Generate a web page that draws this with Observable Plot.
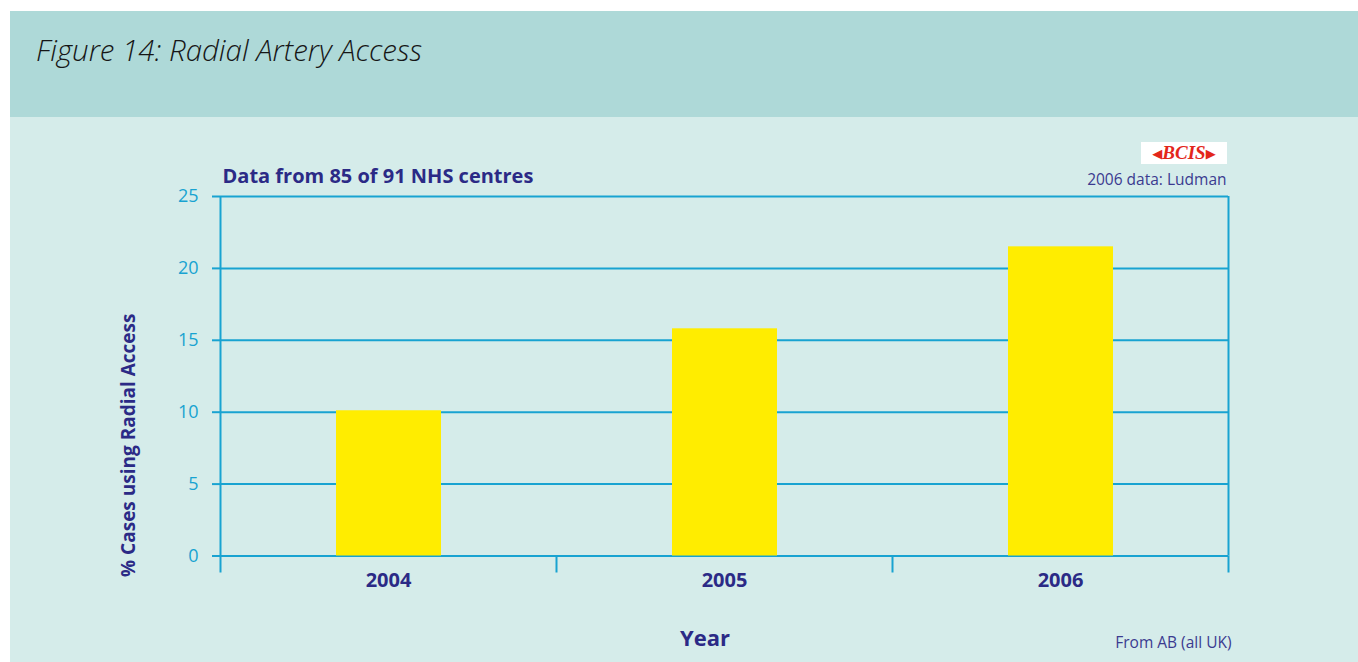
<!DOCTYPE html>
<html>
<head>
<meta charset="utf-8">
<script src="https://cdn.jsdelivr.net/npm/d3@7"></script>
<script src="https://cdn.jsdelivr.net/npm/@observablehq/plot@0.6"></script>
<style>
  html, body { margin: 0; padding: 0; background: #ffffff; }
  body { width: 1358px; height: 662px; position: relative; overflow: hidden; font-family: "Open Sans", sans-serif; }
  #header { position: absolute; left: 10px; top: 11px; width: 1348px; height: 106px; background: #aed9d8; }
  #title { position: absolute; left: 26px; top: 24px; font-size: 29.5px; font-style: italic; font-weight: 300; color: #161616; white-space: nowrap; line-height: 30px; }
  #panel { position: absolute; left: 10px; top: 117px; width: 1348px; height: 545px; background: #d5ecea; }
  #chart { position: absolute; left: 0; top: 0; }
  #logo { position: absolute; left: 1131px; top: 25px; width: 86px; height: 22px; background: #ffffff; color: #e3261b;
          font-family: "Liberation Serif", serif; font-style: italic; font-weight: bold; font-size: 19px; line-height: 22px;
          text-align: center; white-space: nowrap; }
  #logo .arr { font-family: "DejaVu Sans", sans-serif; font-style: normal; font-size: 13px; vertical-align: 1px; }
</style>
</head>
<body>
<div id="header"><div id="title">Figure 14: Radial Artery Access</div></div>
<div id="panel">
  <div id="chart"></div>
  <div id="logo"><span class="arr">◀</span>BCIS<span class="arr">▶</span></div>
</div>
<script>
// Data
const years = [2004, 2005, 2006];
const radialPct = [10.1, 15.8, 21.5];
const yTicks = [0, 5, 10, 15, 20, 25];
const subtitle = "Data from 85 of 91 NHS centres";
const sourceNote = "2006 data: Ludman";
const footNote = "From AB (all UK)";
const xLabel = "Year";
const yLabel = "% Cases using Radial Access";

const rows = years.map((y, i) => ({year: y, value: radialPct[i]}));
const bounds = [years[0] - 0.5, ...years.map(y => y + 0.5)];

const lineColor = "#18a3d1";
const navy = "#2b2a86";
const noteColor = "#3b3b90";
const barColor = "#ffed00";

const chart = Plot.plot({
  width: 1348,
  height: 545,
  marginLeft: 210,
  marginRight: 130,
  marginTop: 79,
  marginBottom: 106.5,
  style: { background: "transparent", fontFamily: "'Open Sans', sans-serif", overflow: "visible" },
  x: { type: "linear", domain: [bounds[0], bounds[bounds.length - 1]] },
  y: { domain: [0, 25] },
  marks: [
    Plot.ruleY(yTicks, { stroke: lineColor, strokeWidth: 2 }),
    Plot.ruleX([bounds[0], bounds[bounds.length - 1]], { y1: 0, y2: 25, stroke: lineColor, strokeWidth: 2 }),
    Plot.axisY({ ticks: yTicks, tickSize: 8, tickPadding: 14, stroke: lineColor, strokeWidth: 2, color: lineColor, fill: lineColor,
                 fontSize: 18, label: null, tickFormat: d => String(d) }),
    Plot.axisX({ ticks: bounds, tickSize: 17, stroke: lineColor, strokeWidth: 2, tickFormat: () => "", label: null }),
    Plot.axisX({ ticks: years, tickSize: 0, tickPadding: 17, fill: navy, fontSize: 20, fontWeight: "bold",
                 tickFormat: d => String(d), label: null }),
    Plot.rectY(rows, { x1: d => d.year - 0.5, x2: d => d.year + 0.5, y: "value", fill: barColor, insetLeft: 116, insetRight: 115 }),
    Plot.text([subtitle], { frameAnchor: "top-left", dx: 2, dy: -14, textAnchor: "start", lineAnchor: "bottom",
                            fill: navy, fontSize: 20, fontWeight: "bold" }),
    Plot.text([sourceNote], { frameAnchor: "top-right", dx: -2, dy: -12, textAnchor: "end", lineAnchor: "bottom",
                              fill: noteColor, fontSize: 15.5 }),
    Plot.text([footNote], { frameAnchor: "bottom-right", dx: 3, dy: 91.5, textAnchor: "end", lineAnchor: "bottom",
                            fill: noteColor, fontSize: 15.5 }),
    Plot.text([xLabel], { frameAnchor: "bottom", dx: -19.5, dy: 89.5, textAnchor: "middle", lineAnchor: "bottom",
                          fill: navy, fontSize: 22, fontWeight: "bold" }),
    Plot.text([yLabel], { frameAnchor: "left", dx: -92, dy: 69, rotate: -90, textAnchor: "middle", lineAnchor: "middle",
                          fill: navy, fontSize: 19, fontWeight: "bold" })
  ]
});
document.getElementById("chart").appendChild(chart);
</script>
</body>
</html>
